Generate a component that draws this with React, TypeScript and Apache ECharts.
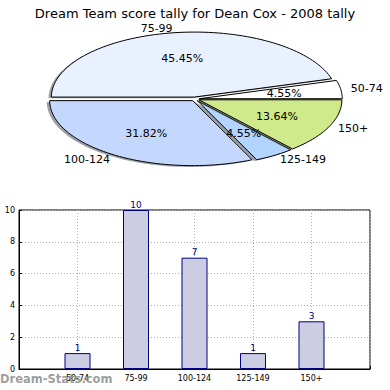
import React, { useEffect, useRef } from "react";
import * as echarts from "echarts";

const categories = ["50-74", "75-99", "100-124", "125-149", "150+"];
const counts = [1, 10, 7, 1, 3];
const pieColors = ["#FFFFFF", "#EAF1FE", "#C4D8FE", "#B3D4FE", "#CFEA8A"];
const yTicks = [0, 2, 4, 6, 8, 10];

const TITLE = "Dream Team score tally for Dean Cox - 2008 tally";
const FONT = "DejaVu Sans";

export default function App() {
  const ref = useRef<HTMLDivElement>(null);
  useEffect(() => {
    document.body.style.margin = "0";
    const chart = echarts.init(ref.current!, null, { renderer: "svg" });
    const total = counts.reduce((a, b) => a + b, 0);
    const cum: number[] = [];
    let acc = 0;
    counts.forEach((c) => {
      cum.push(acc);
      acc += c;
    });
    const CX = 195, CY = 99, RX = 143, RY = 65, EXPLODE = 0.03;

    const shade = (hex: string) => {
      const r = parseInt(hex.slice(1, 3), 16), g = parseInt(hex.slice(3, 5), 16), b = parseInt(hex.slice(5, 7), 16);
      return `rgba(${Math.round(r * 0.3)},${Math.round(g * 0.3)},${Math.round(b * 0.3)},0.5)`;
    };

    const renderPie = (params: any, api: any) => {
      const i = params.dataIndex;
      const v = api.value(0);
      const a0 = (cum[i] / total) * Math.PI * 2;
      const a1 = ((cum[i] + v) / total) * Math.PI * 2;
      const mid = (a0 + a1) / 2;
      const cx = CX + EXPLODE * RX * Math.cos(mid);
      const cy = CY - EXPLODE * RY * Math.sin(mid);
      const pts: number[][] = [[cx, cy]];
      const n = Math.max(4, Math.ceil(((a1 - a0) / (Math.PI * 2)) * 180));
      for (let k = 0; k <= n; k++) {
        const t = a0 + ((a1 - a0) * k) / n;
        pts.push([cx + RX * Math.cos(t), cy - RY * Math.sin(t)]);
      }
      const shadowPts = pts.map((p) => [p[0] - 2.9, p[1] + 1.3]);
      const pctX = cx + 0.6 * RX * Math.cos(mid);
      const pctY = cy - 0.6 * RY * Math.sin(mid);
      const lx = CX + 1.1 * RX * Math.cos(mid);
      const ly = CY - 1.1 * RY * Math.sin(mid);
      return {
        type: "group",
        children: [
          { type: "polygon", shape: { points: shadowPts }, style: { fill: shade(pieColors[i]), stroke: "none" } },
          { type: "polygon", shape: { points: pts }, style: { fill: pieColors[i], stroke: "#000", lineWidth: 1 } },
          {
            type: "text",
            x: pctX,
            y: pctY,
            z2: 10,
            style: { text: ((v / total) * 100).toFixed(2) + "%", align: "center", verticalAlign: "middle", fontSize: 11, fontFamily: FONT, fill: "#000" },
          },
          {
            type: "text",
            x: lx,
            y: ly,
            z2: 10,
            style: { text: categories[i], align: Math.cos(mid) >= 0 ? "left" : "right", verticalAlign: "middle", fontSize: 11, fontFamily: FONT, fill: "#000" },
          },
        ],
      };
    };

    chart.setOption({
      animation: false,
      textStyle: { fontFamily: FONT },
      title: {
        text: TITLE,
        left: "center",
        top: 2,
        textStyle: { fontSize: 13, fontWeight: "normal", color: "#000", fontFamily: FONT },
      },
      grid: {
        left: 19,
        right: 20,
        top: 210,
        bottom: 21,
        show: true,
        borderColor: "#000",
        borderWidth: 1,
        containLabel: false,
        outerBoundsMode: "none",
      },
      xAxis: {
        type: "value",
        min: -1,
        max: 5,
        interval: 1,
        name: "Frequency",
        nameLocation: "middle",
        nameGap: 21,
        nameTextStyle: { fontSize: 10, color: "#000" },
        axisLine: { show: true, onZero: false, lineStyle: { color: "#000" } },
        axisTick: { show: true, inside: true, length: 3, lineStyle: { color: "#000" } },
        axisLabel: {
          fontSize: 8,
          color: "#000",
          margin: 5,
          formatter: (v: number) => categories[v] ?? "",
        },
        splitLine: { show: true, lineStyle: { color: "#b0b0b0", type: [1, 2] } },
      },
      yAxis: [
        {
          type: "value",
          min: 0,
          max: 10,
          interval: 2,
          name: "Total Matches",
          nameLocation: "middle",
          nameGap: 22,
          nameTextStyle: { fontSize: 10, color: "#000" },
          axisLine: { show: true, onZero: false, lineStyle: { color: "#000" } },
          axisTick: { show: true, inside: true, length: 3, lineStyle: { color: "#000" } },
          axisLabel: { fontSize: 8, color: "#000", margin: 4, formatter: (v: number) => (yTicks.includes(v) ? String(v) : "") },
          splitLine: { show: true, lineStyle: { color: "#b0b0b0", type: [1, 2] } },
        },
      ],
      series: [
        {
          type: "custom",
          coordinateSystem: "none",
          renderItem: renderPie,
          data: counts.map((c) => [c]),
          silent: true,
        },
        {
          type: "bar",
          data: counts.map((c, i) => [i, c]),
          barWidth: 26,
          itemStyle: { color: "#CCCCE2", borderColor: "#000080", borderWidth: 1 },
          label: { show: true, position: "top", distance: 1, color: "#000080", fontSize: 9 },
          z: 1,
        },
      ],
      graphic: [
        {
          type: "text",
          left: 0,
          top: 373,
          z: 100,
          style: { text: "Dream-Stats.com", fontSize: 11.5, fontWeight: "bold", fontFamily: FONT, fill: "rgba(140,140,140,0.85)" },
        },
      ],
    });
    return () => chart.dispose();
  }, []);
  return <div ref={ref} style={{ width: 390, height: 390, position: "absolute", left: 0, top: 0 }} />;
}
